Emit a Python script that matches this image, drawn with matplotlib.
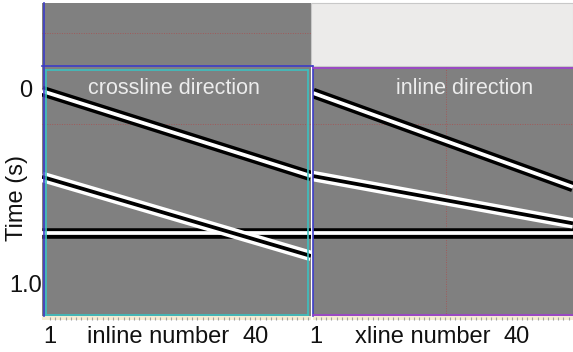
import matplotlib
matplotlib.use("Agg")
import matplotlib.pyplot as plt
from matplotlib.lines import Line2D
from matplotlib.patches import Rectangle

# ---------------- data ----------------
# trace range shown in each panel (left edge, right edge)
left_traces = [-0.5, 50.6]
right_traces = [0.42, 50.87]
# event times (s) at the left and right edge of each panel
left_ev1 = [0.013, 0.448]
left_ev2 = [0.452, 0.857]
left_ev3 = [0.741, 0.741]
right_ev1 = [0.023, 0.504]
right_ev2 = [0.448, 0.690]
right_ev3 = [0.741, 0.741]
# polarity: (outer colour, inner colour)
pol_pos = ("black", "white")
pol_neg = ("white", "black")
time_ticks = [0, 1.0]
time_ticklabels = ["0", "1.0"]
trace_ticks = [1, 40]
trace_ticklabels = ["1", "40"]
panel_titles = ["crossline direction", "inline direction"]
axis_labels = ["inline number", "xline number"]
ylim = (1.164, -0.115)
grid_time = 0.184
grid_trace_right = 26.2

W, H = 573, 352
plt.rcParams['font.family'] = ['Liberation Sans', 'DejaVu Sans']
fig = plt.figure(figsize=(W / 100, H / 100), dpi=100)
fig.patch.set_facecolor("white")

def rect(x0, y0, x1, y1):
    return [x0 / W, 1 - y1 / H, (x1 - x0) / W, (y1 - y0) / H]

def fline(x0, y0, x1, y1, color, lw=1.2, **kw):
    fig.add_artist(Line2D([x0 / W, x1 / W], [1 - y0 / H, 1 - y1 / H],
                          transform=fig.transFigure, color=color, lw=lw, **kw))

GRAY = "#808080"
BLUE = "#3c3cc8"
CYAN = "#3cc0c0"
PURPLE = "#a040d0"
GRID = "#a05a5a"
TXT = "#111111"

# light panel area top right
fig.add_artist(Rectangle((311 / W, 1 - 66 / H), (W - 311) / W, 63 / H,
                         transform=fig.transFigure, facecolor="#ecebea",
                         edgecolor="#c8c8c8", lw=0.8))

# top strip
axT = fig.add_axes(rect(42, 3, 311, 66))
axT.set_facecolor(GRAY)
axT.set_xticks([]); axT.set_yticks([])
for s in axT.spines.values():
    s.set_visible(False)
axT.axhline(0.524, color=GRID, lw=0.7, ls=(0, (1, 1.5)))

def panel(box, traces, events, grid_trace=None):
    ax = fig.add_axes(rect(*box))
    ax.set_facecolor(GRAY)
    ax.set_xlim(traces)
    ax.set_ylim(ylim)
    for s in ax.spines.values():
        s.set_visible(False)
    ax.axhline(grid_time, color=GRID, lw=0.7, ls=(0, (1, 1.5)))
    if grid_trace is not None:
        ax.axvline(grid_trace, color=GRID, lw=0.7, ls=(0, (1, 1.5)))
    for ev, pol in events:
        ax.plot(traces, ev, color=pol[0], lw=7.6, solid_capstyle="butt")
        ax.plot(traces, ev, color=pol[1], lw=2.7, solid_capstyle="butt")
    ax.set_xticks(trace_ticks)
    ax.set_xticklabels(trace_ticklabels)
    ax.tick_params(axis="x", length=0, pad=7, labelsize=17, labelcolor=TXT)
    return ax

axL = panel((42, 66, 311, 316), left_traces,
            [(left_ev3, pol_pos), (left_ev1, pol_pos), (left_ev2, pol_neg)])
axR = panel((313, 66, 573, 316), right_traces,
            [(right_ev3, pol_pos), (right_ev1, pol_pos), (right_ev2, pol_neg)],
            grid_trace_right)

axL.set_yticks(time_ticks)
axL.set_yticklabels(time_ticklabels)
axL.tick_params(axis="y", length=0, pad=11.5, labelsize=17, labelcolor=TXT)
for t in axL.get_yticklabels():
    t.set_horizontalalignment("center")
axR.set_yticks([])

# panel titles
axL.text((174 - 42) / 269, (316 - 89) / 250, panel_titles[0], transform=axL.transAxes,
         ha="center", va="center", fontsize=15.5, color="#ececec")
axR.text((465 - 313) / 260, (316 - 89) / 250, panel_titles[1], transform=axR.transAxes,
         ha="center", va="center", fontsize=15.5, color="#ececec")

# axis labels
fig.text(158 / W, 1 - 337 / H, axis_labels[0], ha="center", va="center",
         fontsize=17, color=TXT)
fig.text(423 / W, 1 - 337 / H, axis_labels[1], ha="center", va="center",
         fontsize=17, color=TXT)
fig.text(17 / W, 1 - 198 / H, "Time (s)", ha="center", va="center",
         rotation=90, fontsize=17, color=TXT)

# bottom tick strips
for (x0, x1), tr in [((42, 311), left_traces), ((313, 573), right_traces)]:
    axS = fig.add_axes(rect(x0, 315.5, x1, 319.5))
    axS.set_facecolor("#f4ecd4")
    axS.set_xlim(tr)
    axS.set_ylim(0, 1)
    for s in axS.spines.values():
        s.set_visible(False)
    axS.set_yticks([])
    axS.set_xticks(range(1, 51))
    axS.tick_params(axis="x", direction="in", length=2.2, width=0.8,
                    color="#a0a0a0", labelbottom=False)

# frame lines
fline(42, 65.5, 312, 65.5, BLUE)
fline(43.5, 3, 43.5, 316, BLUE)
fline(313, 66, 313, 316, BLUE)
fline(46, 69.5, 308, 69.5, CYAN)
fline(46, 314.5, 308, 314.5, CYAN)
fline(46, 69.5, 46, 314.5, CYAN)
fline(308, 69.5, 308, 314.5, CYAN)
fline(313, 68, 573, 68, PURPLE)
fline(313, 314.5, 573, 314.5, PURPLE)

fig.savefig("out.png", dpi=100)
